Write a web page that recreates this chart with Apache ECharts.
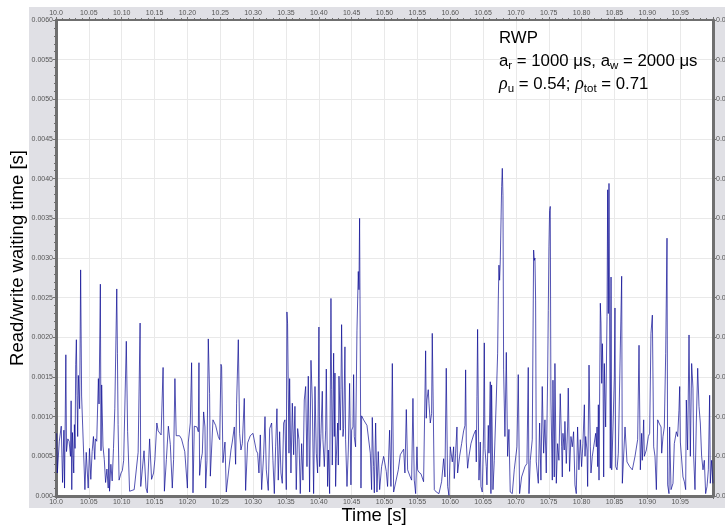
<!DOCTYPE html>
<html><head><meta charset="utf-8">
<script src="https://cdn.jsdelivr.net/npm/echarts@6/dist/echarts.min.js"></script>
<style>html,body{margin:0;padding:0;background:#fff}#c{width:725px;height:527px}</style>
</head><body><div id="c"></div>
<script>
// Time [s] and read/write waiting time [s], in five segments
var timesA=[10.001,10.002,10.005,10.008,10.010,10.012,10.013,10.015,10.016,10.018,
10.020,10.022,10.023,10.024,10.025,10.027,10.028,10.029,10.030,10.031,
10.032,10.033,10.034,10.036,10.0375,10.039,10.041,10.044,10.046,10.048,
10.049,10.051,10.053,10.055,10.057,10.059,10.060,10.062,10.0645,10.0655,
10.0675,10.0685,10.0695,10.0715,10.0735,10.0755,10.0775,10.0795,10.0805,10.0815,
10.0835,10.0855,10.0875,10.0895,10.0925,10.0935,10.0945,10.096,10.099,10.101,
10.103,10.107,10.109,10.112,10.119,10.122,10.125,10.128,10.129,10.132,
10.134,10.136,10.137,10.139,10.1425,10.1455,10.1485,10.1505,10.1535,10.1555,
10.160,10.163,10.165,10.168,10.171,10.174,10.177,10.179,10.181,10.183,
10.185,10.188,10.191,10.196,10.200];
var waitA=[0.00079,0.00029,0.00069,0.00088,0.00017,0.00083,0.00010,0.00178,0.00056,0.00072,
0.00069,0.00050,0.00120,0.00008,0.00080,0.00029,0.00090,0.00060,0.00166,0.00197,
0.00127,0.00075,0.00152,0.00110,0.00285,0.00126,0.00125,0.00008,0.00055,0.00054,
0.00010,0.00060,0.00021,0.00056,0.00075,0.00046,0.00072,0.00069,0.00148,0.00116,
0.00267,0.00057,0.00140,0.00063,0.00046,0.00017,0.00034,0.00010,0.00060,0.00006,
0.00040,0.00019,0.00060,0.00110,0.00261,0.00180,0.00090,0.00020,0.00029,0.00032,
0.00045,0.00195,0.00081,0.00006,0.00008,0.00010,0.00055,0.00218,0.00012,0.00010,
0.00057,0.00059,0.00010,0.00004,0.00072,0.00021,0.00029,0.00046,0.00092,0.00082,
0.00077,0.00162,0.00006,0.00046,0.00088,0.00065,0.00010,0.00046,0.00148,0.00076,
0.00074,0.00076,0.00072,0.00056,0.00010];
var timesB=[10.2014,10.2044,10.2064,10.2085,10.2105,10.2146,10.2166,10.2176,10.2186,10.2207,
10.2227,10.2247,10.2267,10.2278,10.2298,10.2318,10.2338,10.2349,10.2369,10.2389,
10.2430,10.2470,10.2491,10.2511,10.2521,10.2541,10.2572,10.2592,10.2622,10.2663,
10.2683,10.2714,10.2734,10.2749,10.2775,10.2795,10.2815,10.2836,10.2866,10.2886,
10.2917,10.2957,10.2998,10.3028,10.3049,10.3069,10.3089,10.3110,10.3130,10.3160,
10.3181,10.3201,10.3231,10.3252,10.3282,10.3302,10.3323,10.3343,10.3363,10.3383,
10.3404,10.3424,10.3444,10.3465,10.3485,10.3505,10.3515,10.3525,10.3546,10.3556,
10.3576,10.3597,10.3617,10.3637,10.3657,10.3678,10.3698,10.3718,10.3739,10.3759,
10.3779,10.3800,10.3820,10.3840,10.3860,10.3881,10.3901,10.3921,10.3942,10.3962,
10.3982,10.4002];
var waitB=[0.00068,0.00092,0.00168,0.00004,0.00088,0.00087,0.00081,0.00168,0.00026,0.00045,
0.00054,0.00106,0.00087,0.00010,0.00045,0.00198,0.00129,0.00025,0.00024,0.00096,
0.00089,0.00075,0.00071,0.00166,0.00163,0.00042,0.00068,0.00005,0.00003,0.00058,
0.00068,0.00087,0.00040,0.00117,0.00197,0.00079,0.00058,0.00066,0.00123,0.00007,
0.00067,0.00076,0.00079,0.00080,0.00057,0.00054,0.00029,0.00077,0.00008,0.00052,
0.00100,0.00033,0.00007,0.00085,0.00092,0.00045,0.00003,0.00062,0.00110,0.00020,
0.00081,0.00029,0.00016,0.00092,0.00096,0.00008,0.00232,0.00217,0.00054,0.00148,
0.00029,0.00117,0.00052,0.00113,0.00008,0.00085,0.00071,0.00003,0.00066,0.00020,
0.00121,0.00138,0.00037,0.00151,0.00005,0.00171,0.00121,0.00003,0.00138,0.00054,
0.00029,0.00213];
var timesC=[10.4013,10.4033,10.4053,10.4063,10.4084,10.4104,10.4114,10.4134,10.4145,10.4165,
10.4185,10.4195,10.4205,10.4226,10.4236,10.4246,10.4256,10.4266,10.4287,10.4297,
10.4307,10.4327,10.4337,10.4347,10.4368,10.4378,10.4398,10.4408,10.4429,10.4449,
10.4469,10.4489,10.4500,10.4520,10.4530,10.4540,10.4560,10.4581,10.4601,10.4611,
10.4621,10.4642,10.4652,10.4682,10.4733,10.4763,10.4784,10.4804,10.4814,10.4834,
10.4845,10.4865,10.4885,10.4905,10.4926,10.4956,10.4987,10.5027,10.5047,10.5078,
10.5098,10.5119,10.5139,10.5169,10.5210,10.5240,10.5291,10.5311,10.5332,10.5352,
10.5392,10.5413,10.5433,10.5453,10.5474,10.5494,10.5504,10.5524,10.5555,10.5595,
10.5626,10.5636,10.5646,10.5666,10.5677,10.5697,10.5717,10.5727,10.5758,10.5788,
10.5829,10.5869,10.5900,10.5920,10.5940,10.5961,10.5981,10.6001];
var waitC=[0.00037,0.00079,0.00132,0.00071,0.00037,0.00083,0.00160,0.00012,0.00058,0.00003,
0.00249,0.00134,0.00039,0.00180,0.00075,0.00155,0.00012,0.00047,0.00092,0.00039,
0.00151,0.00083,0.00134,0.00216,0.00075,0.00085,0.00188,0.00071,0.00012,0.00058,
0.00142,0.00014,0.00083,0.00087,0.00153,0.00075,0.00062,0.00209,0.00283,0.00260,
0.00350,0.00010,0.00101,0.00096,0.00089,0.00087,0.00054,0.00008,0.00099,0.00037,
0.00004,0.00092,0.00005,0.00056,0.00008,0.00037,0.00050,0.00031,0.00012,0.00083,
0.00012,0.00167,0.00005,0.00003,0.00033,0.00052,0.00059,0.00029,0.00109,0.00033,
0.00024,0.00020,0.00123,0.00020,0.00003,0.00062,0.00033,0.00030,0.00028,0.00018,
0.00183,0.00098,0.00121,0.00134,0.00117,0.00092,0.00104,0.00205,0.00008,0.00005,
0.00003,0.00018,0.00047,0.00024,0.00161,0.00012,0.00001,0.00062];
var timesD=[10.6022,10.6032,10.6052,10.6062,10.6082,10.6103,10.6113,10.6143,10.6174,10.6204,
10.6225,10.6235,10.6245,10.6265,10.6285,10.6316,10.6356,10.6387,10.6397,10.6407,
10.6417,10.6438,10.6458,10.6468,10.6488,10.6509,10.6519,10.6529,10.6549,10.6559,
10.6580,10.6590,10.6610,10.6620,10.6630,10.6651,10.6671,10.6701,10.6722,10.6732,
10.6742,10.6752,10.6762,10.6772,10.6783,10.6793,10.6803,10.6813,10.6833,10.6854,
10.6874,10.6894,10.6914,10.6945,10.6975,10.7016,10.7036,10.7056,10.7087,10.7138,
10.7168,10.7188,10.7199,10.7219,10.7249,10.7270,10.7280,10.7290,10.7300,10.7310,
10.7341,10.7361,10.7381,10.7401,10.7422,10.7442,10.7462,10.7483,10.7493,10.7503,
10.7513,10.7523,10.7533,10.7554,10.7564,10.7584,10.7594,10.7615,10.7635,10.7655,
10.7675,10.7696,10.7706,10.7716,10.7736,10.7746,10.7767,10.7787,10.7797,10.7817,
10.7838,10.7858,10.7878,10.7899,10.7919,10.7939,10.7959,10.7980,10.8000,10.8020];
var waitD=[0.00062,0.00043,0.00062,0.00022,0.00054,0.00087,0.00029,0.00050,0.00066,0.00082,
0.00089,0.00159,0.00068,0.00035,0.00050,0.00066,0.00077,0.00083,0.00043,0.00125,
0.00210,0.00020,0.00068,0.00012,0.00005,0.00087,0.00193,0.00060,0.00037,0.00014,
0.00089,0.00054,0.00144,0.00003,0.00140,0.00008,0.00045,0.00121,0.00180,0.00247,
0.00291,0.00272,0.00295,0.00293,0.00390,0.00413,0.00379,0.00159,0.00075,0.00181,
0.00050,0.00084,0.00005,0.00003,0.00033,0.00062,0.00153,0.00003,0.00024,0.00037,
0.00041,0.00162,0.00003,0.00045,0.00071,0.00310,0.00297,0.00300,0.00247,0.00043,
0.00016,0.00092,0.00020,0.00138,0.00054,0.00096,0.00029,0.00150,0.00234,0.00314,
0.00360,0.00365,0.00121,0.00020,0.00146,0.00024,0.00167,0.00016,0.00066,0.00045,
0.00129,0.00062,0.00024,0.00079,0.00058,0.00094,0.00041,0.00087,0.00136,0.00031,
0.00075,0.00062,0.00081,0.00014,0.00003,0.00087,0.00033,0.00071,0.00037,0.00066];
var timesE=[10.8042,10.8052,10.8062,10.8082,10.8092,10.8113,10.8133,10.8143,10.8163,10.8184,
10.8214,10.8224,10.8235,10.8245,10.8255,10.8265,10.8285,10.8295,10.8306,10.8316,
10.8326,10.8336,10.8346,10.8366,10.8387,10.8397,10.8407,10.8417,10.8427,10.8437,
10.8448,10.8458,10.8478,10.8498,10.8508,10.8519,10.8539,10.8559,10.8610,10.8620,
10.8640,10.8661,10.8671,10.8691,10.8732,10.8772,10.8813,10.8853,10.8874,10.8894,
10.8914,10.8924,10.8945,10.8955,10.8985,10.9016,10.9036,10.9056,10.9077,10.9097,
10.9117,10.9138,10.9158,10.9178,10.9209,10.9219,10.9239,10.9259,10.9280,10.9300,
10.9310,10.9330,10.9340,10.9361,10.9391,10.9411,10.9442,10.9462,10.9482,10.9493,
10.9503,10.9523,10.9543,10.9564,10.9584,10.9594,10.9614,10.9635,10.9655,10.9675,
10.9695,10.9706,10.9726,10.9746,10.9767,10.9787,10.9807,10.9827,10.9848,10.9868,
10.9888,10.9909,10.9929,10.9949,10.9959,10.9979,10.9999];
var waitE=[0.00115,0.00050,0.00075,0.00058,0.00012,0.00165,0.00062,0.00029,0.00050,0.00062,
0.00079,0.00062,0.00087,0.00037,0.00115,0.00020,0.00243,0.00218,0.00142,0.00192,
0.00155,0.00024,0.00167,0.00087,0.00226,0.00386,0.00230,0.00394,0.00396,0.00035,
0.00276,0.00033,0.00087,0.00150,0.00237,0.00037,0.00033,0.00054,0.00277,0.00016,
0.00018,0.00087,0.00085,0.00043,0.00037,0.00033,0.00050,0.00071,0.00190,0.00033,
0.00079,0.00045,0.00096,0.00050,0.00058,0.00075,0.00079,0.00205,0.00228,0.00062,
0.00050,0.00008,0.00096,0.00092,0.00087,0.00054,0.00075,0.00087,0.00180,0.00325,
0.00014,0.00003,0.00087,0.00008,0.00016,0.00066,0.00081,0.00075,0.00108,0.00138,
0.00068,0.00066,0.00024,0.00018,0.00008,0.00121,0.00058,0.00203,0.00050,0.00167,
0.00136,0.00050,0.00008,0.00092,0.00161,0.00113,0.00092,0.00050,0.00033,0.00045,
0.00003,0.00012,0.00033,0.00127,0.00016,0.00045,0.00016];

var xMin=10.0, xMax=11.0, xStep=0.05;
var yMin=0, yMax=0.006, yStep=0.0005;

var times=timesA.concat(timesB,timesC,timesD,timesE);
var waits=waitA.concat(waitB,waitC,waitD,waitE);
var data=times.map(function(t,i){return [t,waits[i]];});

var FONT='Liberation Sans';
var axisCol='#6f6f6f';
function xFmt(v){return Math.abs(v-10)<1e-9?'10.0':v.toFixed(2);}
function yFmt(v){return v===0?'0.000':v.toFixed(4);}
function xAxisCfg(pos,main){
  return {type:'value',position:pos,min:xMin,max:xMax,interval:xStep,
    axisLine:{show:true,onZero:false,lineStyle:{color:axisCol,width:main?3:2}},
    axisTick:{show:true,length:3,lineStyle:{color:axisCol,width:1}},
    minorTick:{show:true,splitNumber:5,length:2,lineStyle:{color:axisCol,width:1}},
    axisLabel:{formatter:xFmt,fontFamily:FONT,fontSize:7,color:'#555',margin:3,showMaxLabel:false},
    splitLine:{show:main,lineStyle:{color:'#e9e9e9',width:1}}};
}
function yAxisCfg(pos,main){
  return {type:'value',position:pos,min:yMin,max:yMax,interval:yStep,
    axisLine:{show:true,onZero:false,lineStyle:{color:axisCol,width:3}},
    axisTick:{show:true,length:3,lineStyle:{color:axisCol,width:1}},
    minorTick:{show:true,splitNumber:5,length:2,lineStyle:{color:axisCol,width:1}},
    axisLabel:{formatter:yFmt,fontFamily:FONT,fontSize:7,color:'#555',margin:3},
    splitLine:{show:main,lineStyle:{color:'#e9e9e9',width:1}}};
}
var chart=echarts.init(document.getElementById('c'),null,{renderer:'canvas'});
chart.setOption({
  backgroundColor:'#fff',
  animation:false,
  graphic:[
    {type:'rect',z:-2,shape:{x:29,y:7,width:700,height:501},style:{fill:'#e0e0e5'}},
    {type:'rect',z:-1,shape:{x:56,y:20,width:657,height:476},style:{fill:'#fff'}},
    {type:'text',z:10,x:18,y:258,rotation:Math.PI/2,style:{
      text:'Read/write waiting time [s]',fontFamily:FONT,fontSize:18.5,fill:'#000',
      align:'center',verticalAlign:'middle'}},
    {type:'text',z:10,x:374,y:516,style:{
      text:'Time [s]',fontFamily:FONT,fontSize:18.5,fill:'#000',
      align:'center',verticalAlign:'middle'}},
    {type:'text',z:10,left:499,top:30,style:{
      text:'{n|RWP}\n{n|a}{s|r}{n| = 1000 μs, a}{s|w}{n| = 2000 μs}\n{g|ρ}{s|u}{n| = 0.54; }{g|ρ}{s|tot}{n| = 0.71}',
      rich:{
        n:{fontFamily:FONT,fontSize:16.8,lineHeight:23,fill:'#000'},
        s:{fontFamily:FONT,fontSize:11.5,lineHeight:23,padding:[8,0,0,0],fill:'#000'},
        g:{fontFamily:'Liberation Serif',fontStyle:'italic',fontSize:18,lineHeight:23,fill:'#000'}
      }}}
  ],
  grid:{left:56,right:12,top:20,bottom:31,containLabel:false,outerBoundsMode:'none'},
  xAxis:[xAxisCfg('bottom',true),xAxisCfg('top',false)],
  yAxis:[yAxisCfg('left',true),yAxisCfg('right',false)],
  series:[{type:'line',xAxisIndex:0,yAxisIndex:0,data:data,showSymbol:false,symbol:'none',
    lineStyle:{color:'rgba(5,5,145,0.68)',width:1},clip:true}]
});
</script></body></html>
